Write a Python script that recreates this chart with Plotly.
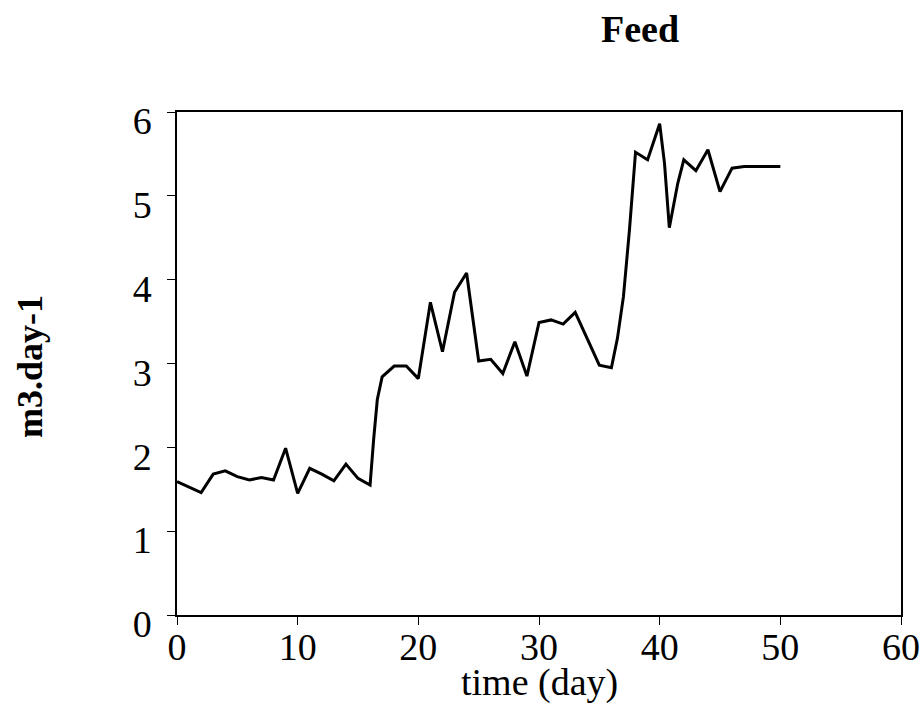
import plotly.graph_objects as go

days = [0, 1, 2, 3, 4, 5, 6, 7, 8, 9, 10, 11, 12, 13, 14, 15, 16, 16.3, 16.6, 17, 18, 19, 20,
        21, 22, 23, 24, 25, 26, 27, 28, 29, 30, 31, 32, 33, 34, 35, 36, 36.5, 37, 37.5, 38,
        39, 40, 40.4, 40.8, 41.5, 42, 43, 44, 45, 46, 47, 48, 49, 50]
feed = [1.59, 1.52, 1.46, 1.68, 1.72, 1.65, 1.61, 1.64, 1.61, 1.99, 1.45, 1.75, 1.68, 1.60, 1.80, 1.63, 1.55, 2.10, 2.57, 2.84, 2.97, 2.97, 2.82,
        3.73, 3.14, 3.85, 4.08, 3.03, 3.05, 2.88, 3.26, 2.85, 3.49, 3.52, 3.47, 3.61, 3.30, 2.98, 2.95, 3.30, 3.80, 4.60, 5.52,
        5.43, 5.86, 5.39, 4.62, 5.15, 5.43, 5.30, 5.55, 5.05, 5.33, 5.35, 5.35, 5.35, 5.35]

x_ticks = [0, 10, 20, 30, 40, 50, 60]
y_ticks = [0, 1, 2, 3, 4, 5, 6]

FONT = "Liberation Serif, Times New Roman, serif"

fig = go.Figure()
fig.add_trace(go.Scatter(x=days, y=feed, mode="lines",
                         line=dict(color="black", width=3), showlegend=False))

fig.update_layout(
    width=923, height=704,
    margin=dict(l=177, r=22, t=112, b=89, autoexpand=False),
    paper_bgcolor="white", plot_bgcolor="white",
    font=dict(family=FONT, color="black", size=38),
    title=dict(text="<b>Feed</b>", x=640/923, xanchor="center", y=1-29/704, yanchor="middle",
               font=dict(family=FONT, size=38, color="black")),
)
fig.update_xaxes(range=[0, 60], tickvals=x_ticks, ticktext=[str(v) for v in x_ticks],
                 showline=True, linecolor="black", linewidth=1.5, mirror=True, automargin=False,
                 ticks="outside", ticklen=8, tickcolor="black", showgrid=False, zeroline=False,
                 ticklabelstandoff=-10,
                 tickfont=dict(family=FONT, size=38, color="black"))
fig.update_yaxes(range=[0, 6], tickvals=y_ticks, ticktext=[str(v) for v in y_ticks],
                 showline=True, linecolor="black", linewidth=1.5, mirror=True, automargin=False,
                 ticks="outside", ticklen=8, tickcolor="black", showgrid=False, zeroline=False,
                 ticklabelshift=9, ticklabelstandoff=8,
                 tickfont=dict(family=FONT, size=38, color="black"))

fig.add_annotation(text="time (day)", xref="paper", yref="paper", x=(539-177)/724, y=(615-682)/503,
                   xanchor="center", yanchor="middle", showarrow=False,
                   font=dict(family=FONT, size=38, color="black"))
fig.add_annotation(text="<b>m3.day-1</b>", xref="paper", yref="paper", x=(30-177)/724, y=(615-367)/503,
                   xanchor="center", yanchor="middle", textangle=-90, showarrow=False,
                   font=dict(family=FONT, size=36, color="black"))

fig.write_html("out.html")
